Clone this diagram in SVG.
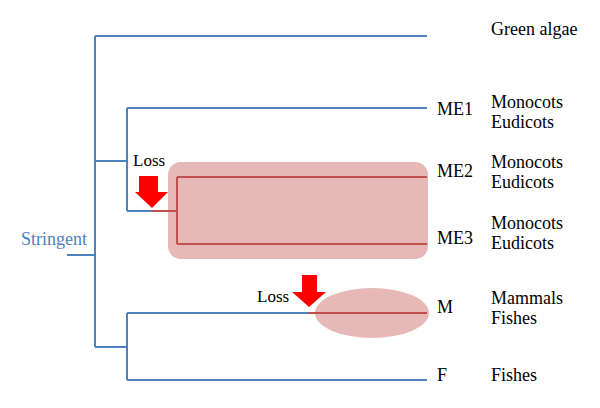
<svg xmlns="http://www.w3.org/2000/svg" width="600" height="408" viewBox="0 0 600 408">
<style>
.b{fill:none;stroke:#4f81bd;stroke-width:2}
.r{fill:none;stroke:#c0504d;stroke-width:2}
.t{font-family:"Liberation Serif","Times New Roman",serif;font-size:18px;fill:#000}
.arrow{fill:#ff0000}
.hl{fill:#e6b8b7}
</style>
<rect width="600" height="408" fill="#fff"/>
<g id="highlight-me">
<rect class="hl" x="168" y="162" width="260" height="97" rx="13"/>
</g>
<g id="highlight-m">
<ellipse class="hl" cx="372" cy="313" rx="57" ry="25"/>
</g>
<g id="connectors">
<path class="b" d="M67 255H95M95 36V347M95 36H427M95 161H127M127 108V211M127 108H427M127 211H152M95 347H127M127 313V380M127 313H308M127 380H427"/>
<path class="r" d="M152 211H177M177 177V244M177 177H427M177 244H427M308 313H427"/>
</g>
<g id="loss1">
<polygon class="arrow" points="139,176 158,176 158,192 168,192 152,208 135,192 139,192"/>
<text class="t" x="133" y="166" style="font-size:17px">Loss</text>
</g>
<g id="loss2">
<polygon class="arrow" points="302,275 317,275 317,292 326,292 309,307 292,292 302,292"/>
<text class="t" x="257" y="302" style="font-size:17px">Loss</text>
</g>
<g id="stringent">
<text x="21" y="245" font-family="Liberation Serif,serif" font-size="18" fill="#4f81bd">Stringent</text>
</g>
<g id="green-algae"><text class="t" x="491" y="35">Green algae</text></g>
<g id="me1"><text class="t" x="437" y="115">ME1</text><text class="t" x="491" y="108">Monocots</text><text class="t" x="491" y="128">Eudicots</text></g>
<g id="me2"><text class="t" x="437" y="177">ME2</text><text class="t" x="491" y="168">Monocots</text><text class="t" x="491" y="188">Eudicots</text></g>
<g id="me3"><text class="t" x="437" y="244">ME3</text><text class="t" x="491" y="229">Monocots</text><text class="t" x="491" y="249">Eudicots</text></g>
<g id="m"><text class="t" x="437" y="313">M</text><text class="t" x="491" y="304">Mammals</text><text class="t" x="491" y="324">Fishes</text></g>
<g id="f"><text class="t" x="437" y="381">F</text><text class="t" x="491" y="381">Fishes</text></g>
</svg>
